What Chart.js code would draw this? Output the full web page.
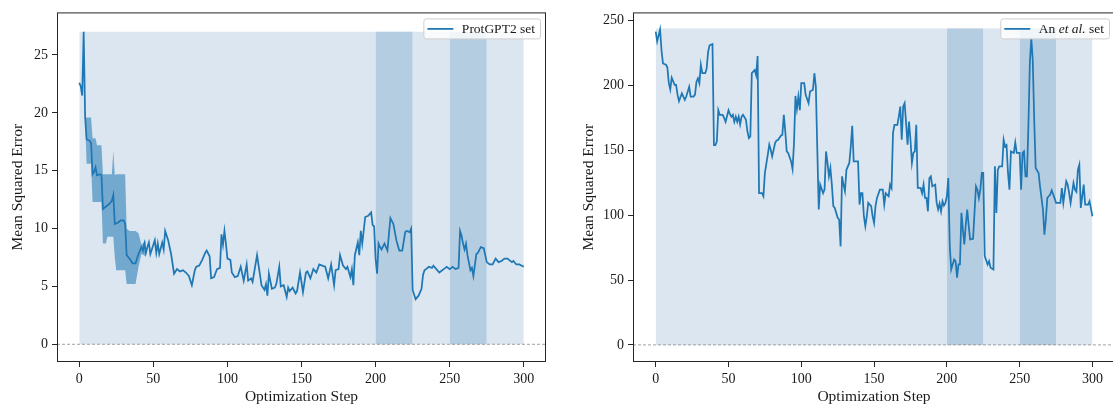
<!DOCTYPE html>
<html>
<head>
<meta charset="utf-8">
<script src="https://cdn.jsdelivr.net/npm/chart.js@4.4.1/dist/chart.umd.min.js"></script>
<style>
  html, body { margin: 0; padding: 0; background: #fff; overflow: hidden; }
  #wrap { position: relative; width: 1113px; height: 408px; overflow: hidden; }
  canvas { position: absolute; top: 0; }
  #protChart { left: 0; }
  #anChart { left: 556px; }
</style>
</head>
<body>
<div id="wrap">
  <canvas id="protChart" width="556" height="408"></canvas>
  <canvas id="anChart" width="564" height="408"></canvas>
</div>
<script>
// tick labels
const xTicks = [0, 50, 100, 150, 200, 250, 300];
const protYTicks = [0, 5, 10, 15, 20, 25];
const anYTicks = [0, 50, 100, 150, 200, 250];

// shaded step ranges
const searchSpan = [0, 300];
const focusSpans = [[200, 225], [250, 275]];
const protSpanTop = 27;
const anSpanTop = 244;

// ProtGPT2 set: mean MSE per optimization step
const protSteps = [
  0, 1, 2, 3, 4, 5, 7, 8, 9, 10, 11, 12, 14, 15, 16, 17, 20, 22, 23, 24, 26, 28, 30, 31, 32,
  34, 36, 38, 40, 42, 43, 44, 45, 46, 47, 48, 49, 51, 52, 53, 54, 56, 57, 58, 60, 62, 64, 66,
  68, 70, 72, 74, 76, 78, 79, 81, 83, 85, 86, 88, 89, 91, 93, 95, 96, 97, 98, 99, 100, 102,
  103, 105, 107, 109, 111, 113, 114, 116, 117, 120, 122, 123, 125, 126, 127, 128, 130, 132,
  133, 135, 136, 138, 140, 141, 142, 144, 146, 147, 149, 151, 153, 154, 156, 158, 160, 162,
  164, 166, 168, 170, 172, 173, 175, 176, 178, 180, 181, 183, 184, 185, 186, 188, 189, 190,
  191, 193, 195, 197, 198, 199, 200, 201, 202, 203, 204, 206, 208, 209, 210, 212, 214, 216,
  218, 220, 221, 223, 224, 225, 227, 229, 231, 232, 233, 234, 236, 238, 239, 241, 243, 246,
  248, 250, 252, 254, 256, 257, 258, 259, 260, 261, 262, 264, 265, 266, 268, 269, 271, 273,
  275, 277, 279, 281, 283, 285, 287, 289, 292, 293, 295, 297, 300
];
const protMse = [
  22.6, 22.3, 21.5, 27.0, 19.6, 17.7, 17.6, 17.4, 14.7, 14.9, 15.3, 14.6, 14.7, 14.6, 11.7, 11.8, 12.1, 12.4, 12.9, 10.4, 10.5, 10.7, 10.7, 10.4, 7.7,
  7.4, 7.0, 7.0, 7.8, 8.4, 8.1, 8.7, 7.9, 8.4, 8.8, 7.8, 8.2, 9.0, 7.9, 8.7, 7.8, 8.8, 8.2, 9.8, 9.0, 7.8, 6.1, 6.5,
  6.3, 6.4, 6.2, 5.9, 5.1, 6.4, 6.7, 6.8, 7.3, 7.9, 8.1, 7.6, 5.7, 5.8, 6.5, 6.6, 9.5, 8.6, 9.8, 8.7, 7.4, 7.3,
  6.2, 5.8, 5.9, 6.7, 5.5, 6.9, 5.5, 5.7, 5.4, 7.7, 6.0, 5.1, 4.7, 5.2, 4.2, 6.1, 4.8, 4.9,
  5.2, 6.7, 5.0, 5.1, 4.1, 4.9, 4.6, 4.9, 4.4, 4.6, 6.2, 4.5, 6.2, 6.3, 5.7, 6.5, 6.2, 6.9,
  6.8, 6.7, 5.7, 6.9, 5.1, 6.4, 6.5, 7.7, 6.8, 6.5, 6.7, 5.8, 6.5, 5.1, 7.7, 8.8, 7.7, 9.8,
  8.7, 11.0, 11.1, 11.4, 10.3, 10.2, 7.4, 6.1, 8.7, 8.4, 8.2, 8.7, 8.1, 9.5, 10.9, 10.4, 9.0, 8.1,
  8.1, 9.7, 9.8, 9.7, 10.0, 4.7, 3.9, 4.2, 4.8, 6.0, 6.4, 6.5, 6.7, 6.6, 6.8, 6.5, 6.2, 6.5,
  6.7, 6.5, 6.7, 6.5, 6.6, 9.8, 9.4, 8.7, 8.2, 8.7, 7.7, 6.4, 6.6, 5.9, 7.8, 7.9, 8.4, 8.3,
  7.1, 6.9, 6.9, 7.4, 7.1, 7.2, 7.4, 7.4, 7.1, 7.2, 6.9, 6.9, 6.7
];

// ProtGPT2 set: spread over runs in the early steps
const protBandSteps = [4, 5, 8, 9, 11, 12, 15, 16, 18, 19, 22, 23, 24, 25, 31, 32, 34, 38, 40, 42, 45];
const protBandHigh = [19.6, 19.6, 19.6, 17.8, 17.8, 17.2, 17.2, 14.7, 14.7, 14.7, 14.7, 16.7, 14.6, 14.7, 14.7, 10.0, 9.8, 9.8, 9.6, 8.6, 9.0];
const protBandLow = [19.2, 15.6, 15.6, 12.3, 12.3, 12.3, 12.3, 8.7, 8.7, 9.3, 9.3, 9.3, 7.5, 6.4, 6.4, 5.2, 5.2, 5.2, 6.7, 7.8, 7.6];

// An et al. set: mean MSE per optimization step
const anSteps = [
  0, 1, 3, 4, 5, 7, 8, 9, 10, 11, 13, 14, 15, 16, 18, 20, 21, 23, 24, 26, 27, 28, 29, 30, 31,
  32, 34, 35, 36, 37, 39, 40, 41, 42, 43, 44, 46, 47, 48, 50, 51, 52, 53, 54, 55, 56, 57, 58,
  59, 60, 62, 63, 64, 65, 66, 68, 69, 70, 71, 73, 74, 75, 77, 78, 79, 80, 82, 83, 84, 86, 87,
  88, 89, 90, 91, 93, 94, 95, 96, 97, 98, 99, 100, 102, 103, 105, 106, 108, 109, 110, 111,
  112, 113, 115, 116, 117, 118, 119, 120, 121, 122, 123, 125, 126, 127, 128, 129, 130, 131,
  133, 134, 135, 136, 139, 140, 141, 142, 143, 144, 145, 146, 148, 149, 150, 151, 152, 154,
  156, 157, 158, 160, 161, 162, 163, 164, 166, 167, 168, 169, 170, 171, 172, 173, 174, 175,
  176, 177, 178, 179, 180, 182, 183, 184, 185, 186, 187, 188, 189, 190, 192, 193, 194, 195,
  196, 197, 198, 199, 200, 201, 202, 203, 205, 206, 207, 208, 209, 210, 211, 212, 213, 214,
  215, 216, 218, 220, 221, 222, 223, 224, 225, 226, 228, 229, 230, 232, 233, 234, 235, 236,
  238, 239, 240, 241, 242, 243, 244, 246, 247, 248, 250, 251, 252, 253, 254, 255, 256, 257,
  258, 259, 260, 261, 263, 264, 266, 267, 268, 269, 270, 271, 272, 274, 275, 278, 279, 280,
  282, 283, 284, 285, 287, 288, 289, 290, 291, 292, 293, 294, 295, 297, 298, 300
];
const anMse = [
  241.5, 234, 243.3, 227, 217, 216, 214, 202, 197, 206, 200.5, 200.5, 193, 188, 194, 189, 191.5, 199, 191.5, 191.5, 193, 203, 205.6, 201.8, 216,
  209.5, 209.5, 213, 226, 231, 232, 154, 154, 157, 181, 177.4, 177.4, 175, 172, 181, 178, 176, 177.4, 172, 176, 172, 176, 170,
  176, 177.4, 173.6, 164.6, 159.5, 160.8, 209.5, 212, 208, 222.8, 117, 117, 114.6, 132.6, 146.7, 154.4, 150.5, 145.4, 155.6, 157.7, 158, 161.3, 162,
  177.4, 164.6, 149.2, 148, 141.5, 135.6, 155.6, 192, 182, 191.5, 181, 201.8, 201.8, 192.8, 186.4, 195.4, 196.7, 209.5, 199, 150.5,
  104.4, 123.6, 117, 120, 149.2, 140.3, 130, 136.4, 123.6, 107, 105.6, 98, 96.7, 76, 130, 123.6, 118.5, 135,
  140.3, 153, 169, 141.5, 141.5, 108.2, 117, 117, 99.2, 91.5, 99, 109.5, 107, 99.2, 94, 107, 113.3, 119.7,
  119.7, 108.2, 117, 114.6, 123.6, 121, 163.3, 169.7, 169.7, 176.2, 183.8, 158.2, 183.8, 186.4, 171, 154.4, 172.3, 158.2,
  140.3, 148, 149.2, 169.7, 121, 121, 117, 123.6, 113.3, 113.3, 103, 128.7, 130, 122.3, 123.6, 109.5, 104.4, 109,
  103, 110.8, 107.4, 109.5, 114.6, 128.7, 76, 58.2, 65.9, 64.6, 51.8, 62, 62, 101.8, 89, 77.4, 92.8, 104.4,
  92, 81.3, 81.8, 122.3, 119.7, 113.3, 120, 132.6, 132.6, 68.5, 62, 64.6, 59.5, 58.2, 137.7, 101.8, 135, 137.7,
  137.7, 158.2, 153, 154, 132.6, 119.7, 149.2, 148, 156, 148, 148, 119.7, 148, 149.2, 130, 130, 168.5, 217,
  236.4, 219.7, 173.6, 136.4, 132.6, 122.3, 104.4, 85, 96.7, 113.3, 114.6, 115.9, 119.2, 113, 109.5, 109.5, 121, 109.5,
  126.2, 123.6, 117, 109.5, 124.9, 119.7, 118, 135, 139, 105.6, 114.6, 123.6, 108.2, 108.2, 110.8, 99.2
];

const BLUE = '#1f77b4';
const INK = '#1a1a1a';
const SERIF = '"Liberation Serif", "DejaVu Serif", serif';

function pts(xs, ys) {
  return xs.map((x, i) => ({ x: x, y: ys[i] }));
}

function spanSet(span, top, color, order) {
  return {
    data: [{ x: span[0], y: top }, { x: span[1], y: top }],
    borderWidth: 0,
    backgroundColor: color,
    fill: 'origin',
    pointRadius: 0,
    order: order
  };
}

// box around the plot area
const framePlugin = {
  id: 'frame',
  afterDraw(chart) {
    const { ctx, chartArea: a } = chart;
    ctx.save();
    ctx.strokeStyle = '#262626';
    ctx.lineWidth = 1;
    ctx.strokeRect(a.left + 0.5, a.top + 0.5, a.right - a.left - 1, a.bottom - a.top - 1);
    ctx.restore();
  }
};

// legend with mixed upright / italic text
const keyPlugin = {
  id: 'seriesKey',
  afterDraw(chart, args, opts) {
    const { ctx, chartArea: a } = chart;
    const size = 13.5;
    const fontFor = p => (p.italic ? 'italic ' : '') + size + 'px ' + SERIF;
    ctx.save();
    let textW = 0;
    opts.parts.forEach(p => {
      ctx.font = fontFor(p);
      textW += ctx.measureText(p.text).width;
    });
    const w = 38.5 + textW + 5;
    const h = 20;
    const right = a.right - 6;
    const top = a.top + 6;
    const left = right - w;

    ctx.beginPath();
    ctx.roundRect(left + 0.5, top + 0.5, w, h, 2.5);
    ctx.fillStyle = 'rgba(255,255,255,0.8)';
    ctx.fill();
    ctx.strokeStyle = '#cfcfcf';
    ctx.lineWidth = 1;
    ctx.stroke();

    ctx.beginPath();
    ctx.moveTo(left + 4, top + h / 2 + 0.5);
    ctx.lineTo(left + 30, top + h / 2 + 0.5);
    ctx.strokeStyle = BLUE;
    ctx.lineWidth = 1.75;
    ctx.stroke();

    ctx.fillStyle = INK;
    ctx.textBaseline = 'middle';
    let x = left + 38.5;
    opts.parts.forEach(p => {
      ctx.font = fontFor(p);
      ctx.fillText(p.text, x, top + h / 2 + 1);
      x += ctx.measureText(p.text).width;
    });
    ctx.restore();
  }
};

function makeChart(id, cfg) {
  const datasets = [
    {
      data: pts(cfg.steps, cfg.values),
      borderColor: BLUE,
      borderWidth: 1.75,
      pointRadius: 0,
      fill: false,
      order: 0
    },
    {
      data: [{ x: cfg.xMin, y: 0 }, { x: cfg.xMax, y: 0 }],
      borderColor: '#8a8a8a',
      borderWidth: 0.8,
      borderDash: [3, 2],
      pointRadius: 0,
      fill: false,
      order: 1
    }
  ];
  if (cfg.bandSteps) {
    datasets.push({
      data: pts(cfg.bandSteps, cfg.bandLow),
      borderWidth: 0,
      pointRadius: 0,
      fill: false,
      order: 2
    });
    datasets.push({
      data: pts(cfg.bandSteps, cfg.bandHigh),
      borderWidth: 0,
      pointRadius: 0,
      backgroundColor: 'rgba(31,119,180,0.55)',
      fill: '-1',
      order: 3
    });
  }
  focusSpans.forEach(s => datasets.push(spanSet(s, cfg.spanTop, '#b5cde1', 4)));
  datasets.push(spanSet(searchSpan, cfg.spanTop, '#dbe6f0', 5));

  const tickFont = { family: SERIF, size: 14 };
  const titleFont = { family: SERIF, size: 15.5 };
  const grid = { drawOnChartArea: false, tickLength: 5, tickColor: '#262626', tickWidth: 1 };

  return new Chart(document.getElementById(id), {
    type: 'line',
    data: { datasets: datasets },
    options: {
      responsive: false,
      animation: false,
      layout: { padding: { left: 0, right: cfg.padRight, top: 11, bottom: 0 } },
      plugins: {
        legend: { display: false },
        tooltip: { enabled: false },
        seriesKey: { parts: cfg.key }
      },
      scales: {
        x: {
          type: 'linear',
          min: cfg.xMin,
          max: cfg.xMax,
          afterBuildTicks: s => { s.ticks = xTicks.map(v => ({ value: v })); },
          afterFit: s => { s.height = 46; },
          grid: grid,
          border: { display: false },
          ticks: { color: INK, font: tickFont, padding: 4, maxRotation: 0, autoSkip: false },
          title: {
            display: true, text: 'Optimization Step', color: INK, font: titleFont,
            padding: { top: 0, bottom: 2 }
          }
        },
        y: {
          type: 'linear',
          min: cfg.yMin,
          max: cfg.yMax,
          afterBuildTicks: s => { s.ticks = cfg.yTicks.map(v => ({ value: v })); },
          afterFit: s => { s.width = cfg.yWidth; },
          grid: grid,
          border: { display: false },
          ticks: { color: INK, font: tickFont, padding: 4 },
          title: {
            display: true, text: 'Mean Squared Error', color: INK, font: titleFont,
            padding: { top: cfg.titlePad, bottom: 0 }
          }
        }
      }
    },
    plugins: [framePlugin, keyPlugin]
  });
}

makeChart('protChart', {
  steps: protSteps,
  values: protMse,
  bandSteps: protBandSteps,
  bandHigh: protBandHigh,
  bandLow: protBandLow,
  spanTop: protSpanTop,
  yTicks: protYTicks,
  xMin: -15, xMax: 315,
  yMin: -1.53, yMax: 28.68,
  yWidth: 57, padRight: 10, titlePad: 8.2,
  key: [{ text: 'ProtGPT2 set' }]
});

makeChart('anChart', {
  steps: anSteps,
  values: anMse,
  spanTop: anSpanTop,
  yTicks: anYTicks,
  xMin: -15.6, xMax: 315.5,
  yMin: -13.2, yMax: 256.4,
  yWidth: 77, padRight: 5, titlePad: 23.2,
  key: [{ text: 'An ' }, { text: 'et al.', italic: true }, { text: ' set' }]
});
</script>
</body>
</html>
